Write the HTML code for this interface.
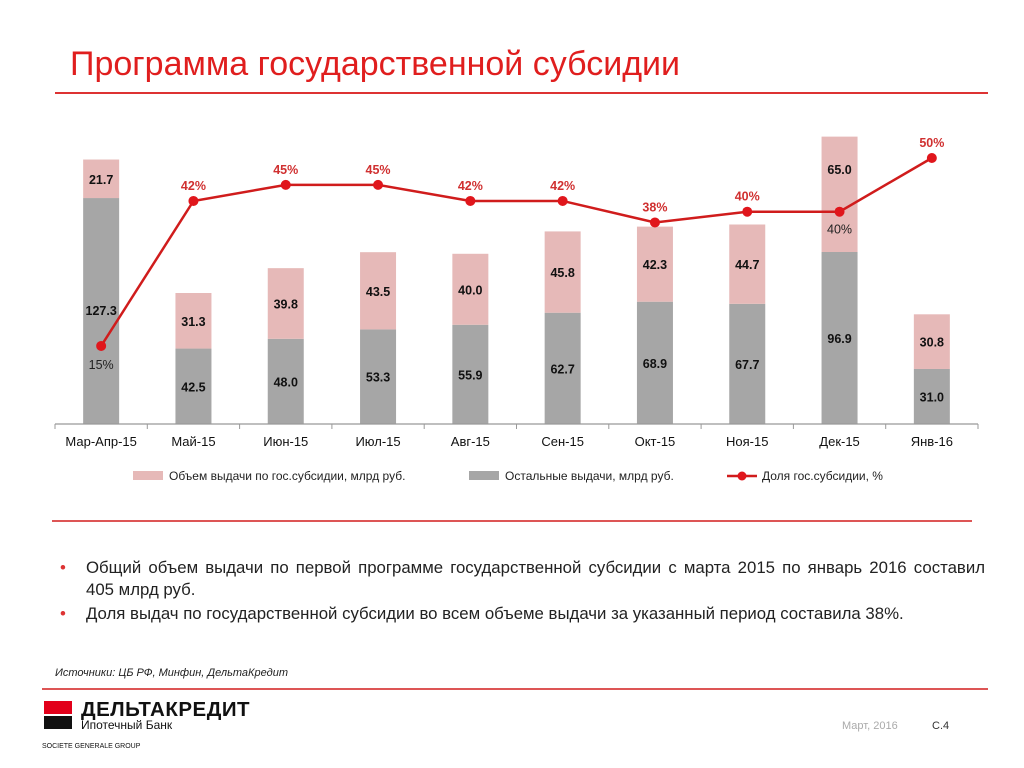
<!DOCTYPE html>
<html><head><meta charset="utf-8"><style>
body{margin:0;width:1024px;height:768px;background:#fff;font-family:"Liberation Sans",sans-serif;overflow:hidden;position:relative}
.a{position:absolute}
</style></head><body>
<div class="a" style="left:70px;top:45px;font-size:34px;color:#e01e1e">Программа государственной субсидии</div>
<div class="a" style="left:55px;top:92px;width:933px;height:2px;background:#d33"></div>
<svg class="a" style="left:0;top:0" width="1024" height="500" id="chart"></svg>
<div class="a" style="left:52px;top:520px;width:920px;height:2px;background:#d55"></div>
<div class="a" style="left:60px;top:557px;width:925px;font-size:16.8px;color:#222;line-height:22px;text-align:justify">
<div style="position:relative;padding-left:26px"><span style="position:absolute;left:0;color:#d33">•</span>Общий объем выдачи по первой программе государственной субсидии с марта 2015 по январь 2016 составил <span style="white-space:nowrap">405 млрд руб.</span></div>
<div style="position:relative;padding-left:26px;margin-top:2px"><span style="position:absolute;left:0;color:#d33">•</span>Доля выдач по государственной субсидии во всем объеме выдачи за указанный период составила 38%.</div>
</div>
<div class="a" style="left:55px;top:667px;font-size:11px;font-style:italic;color:#222">Источники: ЦБ РФ, Минфин, ДельтаКредит</div>
<div class="a" style="left:42px;top:688px;width:946px;height:2px;background:#d55"></div>
<div class="a" style="left:44px;top:701px;width:28px;height:28px;background:linear-gradient(#e2001a 0 46%,#fff 46% 54%,#111 54%)"></div>
<div class="a" style="left:81px;top:698px;font-size:20.5px;font-weight:bold;color:#111;letter-spacing:0.5px">ДЕЛЬТАКРЕДИТ</div>
<div class="a" style="left:81px;top:718px;font-size:12px;color:#111">Ипотечный Банк</div>
<div class="a" style="left:42px;top:743px;font-size:7px;color:#111">SOCIETE GENERALE GROUP</div>
<div class="a" style="left:842px;top:720px;font-size:11px;color:#aaa">Март, 2016</div>
<div class="a" style="left:932px;top:720px;font-size:11px;color:#333">С.4</div>
<script>
const categories=["Мар-Апр-15","Май-15","Июн-15","Июл-15","Авг-15","Сен-15","Окт-15","Ноя-15","Дек-15","Янв-16"];
const subsidy=[21.7,31.3,39.8,43.5,40.0,45.8,42.3,44.7,65.0,30.8];
const other=[127.3,42.5,48.0,53.3,55.9,62.7,68.9,67.7,96.9,31.0];
const share=[15,42,45,45,42,42,38,40,40,50];
const NS="http://www.w3.org/2000/svg";
const svg=document.getElementById('chart');
const x0=55,x1=978,base=424,pxu=1.775;
const step=(x1-x0)/categories.length;
const xc=i=>x0+step*(i+0.5);
const yv=v=>base-v*pxu;
const yp=p=>158+(50-p)*5.37;
function mk(t,a){const e=document.createElementNS(NS,t);for(const k in a)e.setAttribute(k,a[k]);svg.appendChild(e);return e;}
function txt(x,y,s,c,w,size,name){const e=mk('text',{x:x,y:y,'text-anchor':'middle','font-size':size||12.5,fill:c,'font-weight':w||'normal','font-family':'Liberation Sans, sans-serif'});e.textContent=s;return e;}
const bw=36;
categories.forEach((c,i)=>{
 const g=mk('rect',{x:xc(i)-bw/2,y:yv(other[i]),width:bw,height:other[i]*pxu,fill:'#a6a6a6'});
 
 
 const p=mk('rect',{x:xc(i)-bw/2,y:yv(other[i]+subsidy[i]),width:bw,height:subsidy[i]*pxu,fill:'#e6b9b8'});
 
 
 const gy=i===0?yv(other[i])+117:yv(other[i]/2)+5;
 txt(xc(i),gy,other[i].toFixed(1),'#111','bold',12.5,'label-other');
 const py=i===8?yv(other[i]+subsidy[i]*0.72)+5:yv(other[i]+subsidy[i]/2)+5;
 txt(xc(i),py,subsidy[i].toFixed(1),'#111','bold',12.5,'label-subsidy');
 txt(xc(i),446,c,'#111','normal',13,'x-tick-label');
});
const ax=mk('line',{x1:x0,y1:base,x2:x1,y2:base,stroke:'#999','stroke-width':1.2});


for(let i=0;i<=categories.length;i++){const t=mk('line',{x1:x0+step*i,y1:base,x2:x0+step*i,y2:base+5,stroke:'#999'});}
const pl=mk('polyline',{points:share.map((v,i)=>xc(i)+','+yp(v)).join(' '),fill:'none',stroke:'#d01c1c','stroke-width':2.5});


share.forEach((v,i)=>{
 const d=mk('circle',{cx:xc(i),cy:yp(v),r:5,fill:'#e0161c'});
 
 
 if(i===0)txt(xc(i),yp(v)+23,v+'%','#222','normal',12.5,'share-label');
 else if(i===8)txt(xc(i),yp(v)+22,v+'%','#222','normal',12.5,'share-label');
 else txt(xc(i),yp(v)-11,v+'%','#d03030','bold',12.5,'share-label');
});
const l1=mk('rect',{x:133,y:471,width:30,height:9,fill:'#e6b9b8'});
const lt1=txt(169,480,'Объем выдачи по гос.субсидии, млрд руб.','#222','normal',12,'legend-subsidy');lt1.setAttribute('text-anchor','start');
const l2=mk('rect',{x:469,y:471,width:30,height:9,fill:'#a6a6a6'});
const lt2=txt(505,480,'Остальные выдачи, млрд руб.','#222','normal',12,'legend-other');lt2.setAttribute('text-anchor','start');
const l3=mk('line',{x1:727,y1:476,x2:757,y2:476,stroke:'#d01c1c','stroke-width':2.5});
const l4=mk('circle',{cx:742,cy:476,r:4.5,fill:'#e0161c'});
const lt3=txt(762,480,'Доля гос.субсидии, %','#222','normal',12,'legend-share');lt3.setAttribute('text-anchor','start');
</script>
</body></html>
